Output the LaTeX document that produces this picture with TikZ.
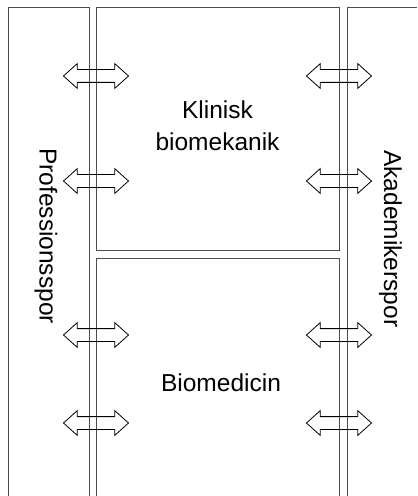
\documentclass[tikz,border=0pt]{standalone}
\usepackage{fontspec}
\setmainfont{Liberation Sans}
\usetikzlibrary{shapes.arrows}
\tikzset{
  lane/.style={draw=black!70, line width=1bp},
  swap arrow/.style={draw=black, line width=0.8bp, double arrow, inner xsep=0pt, inner ysep=6bp,
    minimum height=65bp, minimum width=24bp, double arrow head extend=6bp,
    double arrow tip angle=84, anchor=center},
  label text/.style={inner sep=0pt, font=\fontsize{24.6pt}{32.5pt}\selectfont}
}

\begin{document}
\begin{tikzpicture}[x=1bp, y=-1bp]
        \useasboundingbox (0,0) rectangle (417,496);
        % Spor (left and right)
        \draw[lane] (8,496) -- (8,8) -- (89,8) -- (89,496);
        \draw[lane] (347,496) -- (347,8) -- (417,8);

        % Middle blocks
        \draw[lane] (96,8) rectangle (339,250);
        \draw[lane] (96,496) -- (96,258) -- (339,258) -- (339,496);

        % Arrows across the lanes
        \foreach \y [count=\i] in {76,181,335,423} {
            \node[swap arrow] (left\i) at (96,\y) {};
            \node[swap arrow] (right\i) at (339,\y) {};
        }

        % Labels
        \node[label text, align=center] (klinisk) at (217.5,125.5) {Klinisk\\biomekanik};
        \node[label text, anchor=base] (biomed) at (221,391.7) {Biomedicin};
        \node[label text, rotate=-90, anchor=base west] (prof) at (39.5,148) {Professionsspor};
        \node[label text, rotate=-90, anchor=base west] (akad) at (384,150) {Akademikerspor};
    \end{tikzpicture}
\end{document}
